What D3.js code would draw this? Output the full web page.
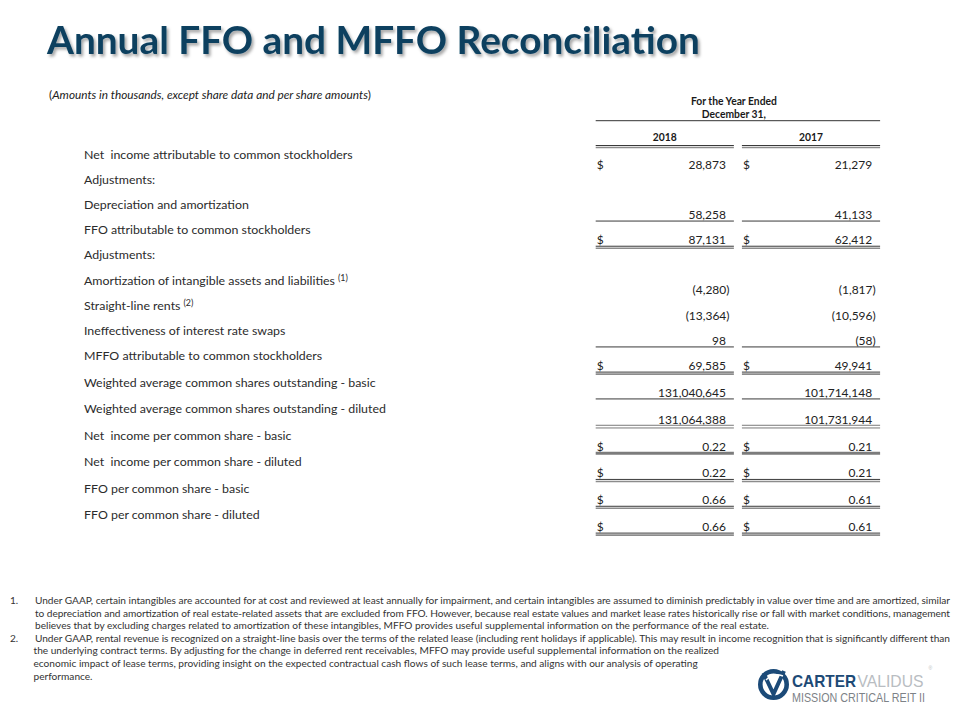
<!DOCTYPE html>
<html><head><meta charset="utf-8">
<script src="https://cdn.jsdelivr.net/npm/d3@7"></script>
<style>body{margin:0;background:#fff} svg{display:block} .pre{white-space:pre}</style>
</head><body><div id="chart"></div>
<script>
// ---------------- DATA ----------------
const title = "Annual FFO and MFFO Reconciliation";
const subtitle = "Amounts in thousands, except share data and per share amounts";
const headerLines = ["For the Year Ended", "December 31,"];
const years = ["2018", "2017"];
const rowLabels = [
  "Net  income attributable to common stockholders",
  "Adjustments:",
  "Depreciation and amortization",
  "FFO attributable to common stockholders",
  "Adjustments:",
  "Amortization of intangible assets and liabilities",
  "Straight-line rents",
  "Ineffectiveness of interest rate swaps",
  "MFFO attributable to common stockholders",
  "Weighted average common shares outstanding - basic",
  "Weighted average common shares outstanding - diluted",
  "Net  income per common share - basic",
  "Net  income per common share - diluted",
  "FFO per common share - basic",
  "FFO per common share - diluted"
];
const rowNoteRefs = ["", "", "", "", "", "(1)", "(2)", "", "", "", "", "", "", "", ""];
const rowUnits = ["usd", "", "usd", "usd", "", "usd", "usd", "usd", "usd", "shares", "shares", "pershare", "pershare", "pershare", "pershare"];
const dollarRows = [true, false, false, true, false, false, false, false, true, false, false, true, true, true, true];
const values2018 = [28873, null, 58258, 87131, null, -4280, -13364, 98, 69585, 131040645, 131064388, 0.22, 0.22, 0.66, 0.66];
const values2017 = [21279, null, 41133, 62412, null, -1817, -10596, -58, 49941, 101714148, 101731944, 0.21, 0.21, 0.61, 0.61];
const footnoteNumbers = ["1.", "2."];
const footnoteLines = [
  "Under GAAP, certain intangibles are accounted for at cost and reviewed at least annually for impairment, and certain intangibles are assumed to diminish predictably in value over time and are amortized, similar",
  "to depreciation and amortization of real estate-related assets that are excluded from FFO. However, because real estate values and market lease rates historically rise or fall with market conditions, management",
  "believes that by excluding charges related to amortization of these intangibles, MFFO provides useful supplemental information on the performance of the real estate.",
  "Under GAAP, rental revenue is recognized on a straight-line basis over the terms of the related lease (including rent holidays if applicable). This may result in income recognition that is significantly different than",
  "the underlying contract terms. By adjusting for the change in deferred rent receivables, MFFO may provide useful supplemental information on the realized",
  "economic impact of lease terms, providing insight on the expected contractual cash flows of such lease terms, and aligns with our analysis of operating",
  "performance."
];

// ---------------- DRAWING ----------------
const W = 960, H = 720;
const FONT = "Lato, 'Open Sans', 'Liberation Sans', sans-serif";
const svg = d3.select("#chart").append("svg").attr("width", W).attr("height", H)
  .style("font-family", FONT);

const defs = svg.append("defs");
const f = defs.append("filter").attr("id", "shadow").attr("x", "-5%").attr("y", "-20%").attr("width", "115%").attr("height", "160%");
f.append("feDropShadow").attr("dx", 2).attr("dy", 2.5).attr("stdDeviation", 1.6)
  .attr("flood-color", "#000").attr("flood-opacity", 0.35);

function calib(text, target, weight, style, base = 20, family) {
  const t = svg.append("text").attr("font-size", base).attr("font-weight", weight || 400)
    .attr("font-style", style || "normal").attr("class", "pre").text(text);
  if (family) t.style("font-family", family);
  const w = t.node().getComputedTextLength();
  t.remove();
  return base * target / w;
}

// Title
const titleSize = calib(title, 653, 700);
svg.append("text").attr("x", 47).attr("y", 54).attr("font-size", titleSize)
  .attr("font-weight", 700).attr("fill", "#0b3f5f").attr("filter", "url(#shadow)").text(title);

// Subtitle
const subSize = calib("(" + subtitle + ")", 322, 400, "italic");
const st = svg.append("text").attr("x", 49).attr("y", 99).attr("font-size", subSize).attr("fill", "#222");
st.append("tspan").text("(");
st.append("tspan").attr("font-style", "italic").text(subtitle);
st.append("tspan").text(")");

// Column scale
const col = d3.scaleBand().domain(years).range([595.7, 880.1]).paddingInner(0.055);

// Header
const hdrSize = calib(headerLines[0], 86, 700);
const hdrX = (col.range()[0] + col.range()[1]) / 2 - 4;
svg.selectAll("text.hdr").data(headerLines).join("text").attr("class", "hdr")
  .attr("x", hdrX).attr("y", (d, i) => 104.7 + i * 13.3).attr("text-anchor", "middle")
  .attr("font-size", hdrSize).attr("font-weight", 700).attr("fill", "#1a1a1a").text(d => d);
svg.append("line").attr("x1", col.range()[0]).attr("x2", col.range()[1]).attr("y1", 120.7).attr("y2", 120.7)
  .attr("stroke", "#333").attr("stroke-width", 1);

svg.selectAll("text.yr").data(years).join("text").attr("class", "yr")
  .attr("x", d => col(d) + col.bandwidth() / 2).attr("y", 141.3).attr("text-anchor", "middle")
  .attr("font-size", hdrSize).attr("font-weight", 700).attr("fill", "#1a1a1a").text(d => d);

// Row scales
const labelY = d3.scaleLinear().domain([0, 4, 8, 14]).range([155, 255, 356, 515]);
const valueY = d3.scaleLinear().domain([0, 8, 14]).range([164.3, 365.7, 526.7]);

// Labels
const labSize = calib(rowLabels[0], 268.7);
const labels = svg.selectAll("text.lab").data(rowLabels).join("text").attr("class", "lab pre")
  .attr("x", 84).attr("y", (d, i) => labelY(i)).attr("dy", "0.36em")
  .attr("font-size", labSize).attr("fill", "#2b2b2b");
labels.append("tspan").text(d => d);
labels.each(function (d, i) {
  if (rowNoteRefs[i]) d3.select(this).append("tspan").attr("dx", 3).attr("dy", "-0.45em")
    .attr("font-size", labSize * 0.72).text(rowNoteRefs[i]);
});

// Values
const valSize = calib("131,064,388", 68);
const fmtInt = d3.format(",");
const fmtPS = d3.format(".2f");
function fmt(v, unit) {
  if (unit === "pershare") return fmtPS(v);
  return v < 0 ? "(" + fmtInt(-v) + ")" : fmtInt(v);
}
const series = { "2018": values2018, "2017": values2017 };
const ruleKind = { 2: "single", 3: "double", 7: "single", 8: "double", 9: "single", 10: "twin", 11: "thick", 12: "double", 13: "double", 14: "double" };

function drawRule(g, x1, x2, y, kind) {
  const L = (yy, c, w) => g.append("line").attr("x1", x1).attr("x2", x2).attr("y1", yy).attr("y2", yy)
    .attr("stroke", c).attr("stroke-width", w);
  if (kind === "single") L(y, "#3a3a3a", 1);
  else if (kind === "double") { L(y, "#3a3a3a", 1); L(y + 2, "#8c8c8c", 1.6); }
  else if (kind === "twin") { L(y - 0.5, "#7a7a7a", 1); L(y + 2.2, "#7a7a7a", 1); }
  else if (kind === "thick") L(y + 0.7, "#7c7c7c", 3);
}

years.forEach(yr => {
  const g = svg.append("g");
  const x0 = col(yr), x1 = col(yr) + col.bandwidth();
  const vals = series[yr];
  vals.forEach((v, i) => {
    if (v === null) return;
    const y = valueY(i);
    if (dollarRows[i]) g.append("text").attr("x", x0 + 1).attr("y", y).attr("dy", "0.36em")
      .attr("font-size", valSize).attr("fill", "#222").text("$");
    g.append("text").attr("x", x1 - 8 + (v < 0 ? 3.6 : 0)).attr("y", y).attr("dy", "0.36em")
      .attr("text-anchor", "end").attr("font-size", valSize).attr("fill", "#222").text(fmt(v, rowUnits[i]));
    if (ruleKind[i]) drawRule(g, x0, x1, y + 6.4, ruleKind[i]);
  });
  drawRule(g, x0, x1, 145.5, "double");
});

// Footnotes
const fnY = d3.scaleLinear().domain([0, 6]).range([600.7, 676]);
const fnSize = calib(footnoteLines[2], 735);
const justified = [0, 1, 3];
svg.selectAll("text.fn").data(footnoteLines).join("text").attr("class", "fn")
  .attr("x", (d, i) => i >= 4 ? 33.5 : 35).attr("y", (d, i) => fnY(i)).attr("dy", "0.35em")
  .attr("font-size", fnSize).attr("fill", "#333")
  .each(function (d, i) {
    if (justified.includes(i)) d3.select(this).attr("textLength", 915).attr("lengthAdjust", "spacing");
  })
  .text(d => d);
svg.selectAll("text.fnn").data(footnoteNumbers).join("text").attr("class", "fnn")
  .attr("x", 10).attr("y", (d, i) => fnY(i === 0 ? 0 : 3)).attr("dy", "0.35em")
  .attr("font-size", fnSize).attr("fill", "#333").text(d => d);

// Logo
const LF = "'Liberation Sans', Arial, sans-serif";
const logo = svg.append("g").style("font-family", LF);
logo.append("circle").attr("cx", 773.5).attr("cy", 684.5).attr("r", 13.2)
  .attr("fill", "none").attr("stroke", "#1b4a78").attr("stroke-width", 4.6);
logo.append("path").attr("d", "M763.5,673 L773.5,694 L784,671")
  .attr("fill", "none").attr("stroke", "#1b4a78").attr("stroke-width", 4).attr("stroke-linejoin", "miter");
logo.append("path").attr("d", "M766,680 Q773,672 783,676")
  .attr("fill", "none").attr("stroke", "#fff").attr("stroke-width", 1.4);
logo.append("text").attr("x", 792).attr("y", 686.5).attr("font-size", 17).attr("font-weight", 700)
  .attr("textLength", 64).attr("lengthAdjust", "spacingAndGlyphs")
  .attr("fill", "#1d4a76").text("CARTER");
logo.append("text").attr("x", 857.5).attr("y", 686.5).attr("font-size", 17).attr("font-weight", 400)
  .attr("textLength", 66).attr("lengthAdjust", "spacingAndGlyphs")
  .attr("fill", "#b9bdc2").text("VALIDUS");
logo.append("text").attr("x", 928.5).attr("y", 670).attr("font-size", 5).attr("fill", "#b9bdc2").text("®");
logo.append("text").attr("x", 792).attr("y", 701.5).attr("font-size", 13).attr("font-weight", 400)
  .attr("textLength", 133).attr("lengthAdjust", "spacingAndGlyphs")
  .attr("fill", "#7d8287").text("MISSION CRITICAL REIT II");
</script>
</body></html>
